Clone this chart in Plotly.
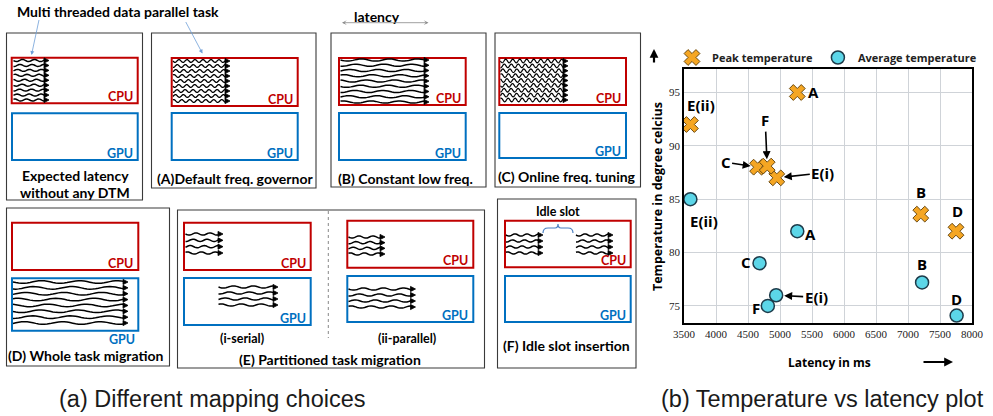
import numpy as np
import plotly.graph_objects as go

W, H = 993, 416

# ---------------- data (scatter, panel b) ----------------
labels = ["A", "B", "C", "D", "E(i)", "E(ii)", "F"]
peak_latency = [5270, 7200, 4650, 7750, 4950, 3600, 4800]
peak_temp = [95.0, 83.6, 88.0, 82.0, 87.0, 92.0, 88.1]
avg_latency = [5270, 7220, 4680, 7760, 4940, 3600, 4810]
avg_temp = [82.0, 77.2, 79.0, 74.1, 76.0, 85.0, 75.0]
x_ticks = [3500, 4000, 4500, 5000, 5500, 6000, 6500, 7000, 7500, 8000]
y_ticks = [75, 80, 85, 90, 95]

# label placement (style): dx, dy in screen pixels (dy down), arrow?
peak_label_style = {"A": (16, 0, False), "B": (0, -22, False), "C": (-32, -5, True),
                    "D": (1, -20, False), "E(i)": (46, -5, True), "E(ii)": (11, -19, False),
                    "F": (-2, -46, True)}
avg_label_style = {"A": (13, 3, False), "B": (0, -18, False), "C": (-14, -1, False),
                   "D": (0, -17, False), "E(i)": (40, 2, True), "E(ii)": (14, 22, False),
                   "F": (-12, 2, False)}

fig = go.Figure()

fig.add_trace(go.Scatter(x=peak_latency, y=peak_temp, mode="markers",
                         name="<b>Peak temperature</b>",
                         marker=dict(symbol="x", size=14, color="#F5A623",
                                     line=dict(color="#6b4a12", width=1))))
fig.add_trace(go.Scatter(x=avg_latency, y=avg_temp, mode="markers",
                         name="<b>Average temperature</b>",
                         marker=dict(symbol="circle", size=13, color="#5CD6E8",
                                     line=dict(color="#1d3b4a", width=1.5))))
# dummy trace for overlay pixel axes
fig.add_trace(go.Scatter(x=[None], y=[None], xaxis="x3", yaxis="y3", showlegend=False,
                         hoverinfo="skip"))

LBL_FONT = dict(family="Open Sans", size=15, color="black")
ann = []
for lab, lx, ly in zip(labels, peak_latency, peak_temp):
    dx, dy, arr = peak_label_style[lab]
    if arr:
        ann.append(dict(x=lx, y=ly, xref="x", yref="y", text=f"<b>{lab}</b>", showarrow=True,
                        ax=dx, ay=dy, arrowhead=2, arrowsize=1, arrowwidth=1.6,
                        arrowcolor="black", standoff=7, font=LBL_FONT))
    else:
        ann.append(dict(x=lx, y=ly, xref="x", yref="y", text=f"<b>{lab}</b>", showarrow=False,
                        xshift=dx, yshift=-dy, font=LBL_FONT))
for lab, lx, ly in zip(labels, avg_latency, avg_temp):
    dx, dy, arr = avg_label_style[lab]
    if arr:
        ann.append(dict(x=lx, y=ly, xref="x", yref="y", text=f"<b>{lab}</b>", showarrow=True,
                        ax=dx, ay=dy, arrowhead=2, arrowsize=1, arrowwidth=1.6,
                        arrowcolor="black", standoff=8, font=LBL_FONT))
    else:
        ann.append(dict(x=lx, y=ly, xref="x", yref="y", text=f"<b>{lab}</b>", showarrow=False,
                        xshift=dx, yshift=-dy, font=LBL_FONT))


def ptxt(x, y, text, size=14, color="black", family="Lato", bold=True, xanchor="center",
         textangle=0):
    t = f"<b>{text}</b>" if bold else text
    ann.append(dict(x=x, y=y, xref="x3", yref="y3", text=t, showarrow=False,
                    xanchor=xanchor, yanchor="middle", textangle=textangle,
                    font=dict(family=family, size=size, color=color)))


def parrow(x0, y0, x1, y1, color, width, head=2, side="end", size=1.0):
    ann.append(dict(x=x1, y=y1, ax=x0, ay=y0, xref="x3", yref="y3", axref="x3", ayref="y3",
                    text="", showarrow=True, arrowhead=head, arrowsize=size,
                    arrowwidth=width, arrowcolor=color, arrowside=side,
                    startarrowhead=head, startarrowsize=size))


# scatter axis titles & arrows
ptxt(829, 362, "Latency in ms", size=12, family="Open Sans")
parrow(922, 362, 953, 362, "black", 2.2, head=2, size=0.8)
ptxt(657, 197, "Temperature in degree celcius", size=12.5, family="Open Sans", textangle=-90)
parrow(654, 64, 654, 49, "black", 2.2, head=2, size=0.8)

# captions
ptxt(212, 399, "(a) Different mapping choices", size=23.5, family="Liberation Sans",
     bold=False, color="#1a1a1a")
ptxt(822, 399, "(b) Temperature vs latency plot", size=23.5, family="Liberation Sans",
     bold=False, color="#1a1a1a")

# ---------------- diagram (panel a) ----------------
shapes = []


def rect(x0, y0, x1, y1, color, width):
    shapes.append(dict(type="rect", xref="x3", yref="y3", x0=x0, y0=y0, x1=x1, y1=y1,
                       line=dict(color=color, width=width), fillcolor="rgba(0,0,0,0)",
                       layer="above"))


outer = [(6.5, 33, 142.5, 200), (151.5, 33, 316, 188), (331, 33, 486, 187),
         (495, 33, 640.5, 187), (6.5, 208, 169.5, 366), (177.5, 210, 484.5, 368),
         (497.5, 199, 636, 368)]
for b in outer:
    rect(*b, "#3a3a3a", 1.1)

RED, BLUE = "#C00000", "#0070C0"
reds = [(11.7, 57.7, 137.7, 103.3), (171.7, 58, 297.7, 106), (339, 58, 465.7, 105),
        (499.3, 58, 626, 105), (12, 222.7, 138.3, 270), (184, 222.7, 310.7, 270),
        (347.3, 220.7, 473.3, 267.7), (505, 220.7, 630.7, 267.3)]
blues = [(12, 113.3, 137.7, 160), (171.7, 113, 297.7, 160), (339, 113, 465.7, 160),
         (499.3, 113, 626, 158), (12, 278.3, 138.3, 330.7), (184, 278, 310.7, 325),
         (347.3, 276, 473.3, 322), (505, 276, 630.7, 322)]
for i, b in enumerate(reds):
    rect(*b, RED, 2)
    ptxt(b[2] - 3, b[3] - 7, "CPU", size=12.5, color=RED, xanchor="right")
for i, b in enumerate(blues):
    rect(*b, BLUE, 2)
    if i == 4:
        ptxt(b[2] - 1, 339, "GPU", size=12.5, color=BLUE, xanchor="right")
    else:
        ptxt(b[2] - 3, b[3] - 7, "GPU", size=12.5, color=BLUE, xanchor="right")

# wavy thread bundles: x0, x1, y_first, y_last, n, amplitude, period, line width
groups = [(13.5, 48, 60.5, 100, 9, 1.0, 12, 1.5), (173, 229, 61, 101, 9, 1.4, 8, 1.3),
          (340.5, 428, 60, 102, 9, 1.1, 28, 1.5), (500.5, 567, 61, 100, 9, 1.8, 7, 1.2),
          (13, 127, 282, 323, 8, 1.3, 38, 1.5), (185.5, 222, 234, 253, 4, 1.1, 14, 1.5),
          (218.5, 277, 287, 305, 4, 1.1, 20, 1.5), (348.5, 384, 237, 254, 4, 1.1, 14, 1.5),
          (348.5, 414.5, 289, 307, 4, 1.1, 20, 1.5), (506, 542, 235, 253, 4, 1.1, 12, 1.5),
          (576, 612, 235, 253, 4, 1.1, 12, 1.5)]
for (x0, x1, ya, yb, n, amp, per, lw) in groups:
    wpath, hpath = [], []
    for k, yy in enumerate(np.linspace(ya, yb, n)):
        xe = x1 - 3
        xs = np.linspace(x0, xe, max(int((xe - x0) / per * 14), 8))
        ys = yy + amp * np.sin(2 * np.pi * (xs - x0) / per + k * 1.3)
        wpath.append("M" + " L".join(f"{a:.2f},{b:.2f}" for a, b in zip(xs, ys)))
        hpath.append(f"M{xe - 1:.2f},{yy - 2.6:.2f} L{x1 + 1:.2f},{yy:.2f} "
                     f"L{xe - 1:.2f},{yy + 2.6:.2f} Z")
    shapes.append(dict(type="path", xref="x3", yref="y3", path=" ".join(wpath),
                       line=dict(color="black", width=lw), fillcolor="rgba(0,0,0,0)",
                       layer="above"))
    shapes.append(dict(type="path", xref="x3", yref="y3", path=" ".join(hpath),
                       line=dict(color="black", width=0.8), fillcolor="black", layer="above"))

# dashed separator in E
shapes.append(dict(type="line", xref="x3", yref="y3", x0=328.3, y0=211, x1=328.3, y1=338,
                   line=dict(color="#888", width=1, dash="dot"), layer="above"))
# idle slot brace
shapes.append(dict(type="path", xref="x3", yref="y3",
                   path="M543,233 Q543,228 548,228 L555,228 Q558,228 558,224 "
                        "Q558,228 561,228 L568,228 Q573,228 573,233",
                   line=dict(color="#4a7fc1", width=1.2), fillcolor="rgba(0,0,0,0)",
                   layer="above"))

# panel texts
ptxt(118, 11, "Multi threaded data parallel task")
parrow(39.3, 18.5, 31.5, 55, "#6f9fd8", 0.8, head=2, size=1)
parrow(185, 20.5, 202.5, 53.5, "#6f9fd8", 0.8, head=2, size=1)
ptxt(377, 16, "latency")
parrow(340.5, 22.7, 428.5, 22.7, "#888", 0.8, head=3, side="end+start", size=1)
ptxt(75, 175, "Expected latency")
ptxt(75, 192, "without any DTM")
ptxt(235, 178, "(A)Default freq. governor")
ptxt(405, 178, "(B) Constant low freq.")
ptxt(567, 176, "(C) Online freq. tuning")
ptxt(86, 355, "(D) Whole task migration")
ptxt(242, 338, "(i-serial)", size=12.5)
ptxt(407, 338, "(ii-parallel)", size=12.5)
ptxt(330, 359, "(E) Partitioned task migration")
ptxt(558, 211, "Idle slot", size=12.5)
ptxt(566, 345, "(F) Idle slot insertion")

TICKFONT = dict(family="Liberation Serif, Times New Roman, serif", size=11, color="#222")
fig.update_layout(
    width=W, height=H, margin=dict(l=0, r=0, t=0, b=0),
    paper_bgcolor="white", plot_bgcolor="rgba(0,0,0,0)",
    xaxis=dict(domain=[684 / W, 972 / W], range=[3500, 8000], tickvals=x_ticks,
               ticktext=[str(v) for v in x_ticks], tickfont=TICKFONT, showgrid=True,
               gridcolor="#cfd3d8", gridwidth=1, showline=True, linecolor="black",
               linewidth=1.8, mirror=True, zeroline=False, ticks="", anchor="y",
               automargin=False),
    yaxis=dict(domain=[(H - 323) / H, (H - 69) / H], range=[73.4, 97.2], tickvals=y_ticks,
               ticktext=[str(v) for v in y_ticks], tickfont=TICKFONT, showgrid=True,
               gridcolor="#cfd3d8", gridwidth=1, showline=True, linecolor="black",
               linewidth=1.8, mirror=True, zeroline=False, ticks="", anchor="x",
               automargin=False),
    xaxis3=dict(domain=[0, 1], range=[0, W], visible=False, anchor="y3", fixedrange=True),
    yaxis3=dict(domain=[0, 1], range=[H, 0], visible=False, anchor="x3", fixedrange=True),
    legend=dict(orientation="h", x=672 / W, y=1 - 43 / H, xanchor="left", yanchor="top",
                font=dict(family="Open Sans", size=11, color="#222"),
                bgcolor="rgba(0,0,0,0)", itemsizing="trace"),
    shapes=shapes, annotations=ann, showlegend=True,
)

fig.write_html("out.html", config={"displayModeBar": False},
               post_script="document.body.style.margin='0';document.body.style.padding='0';")
